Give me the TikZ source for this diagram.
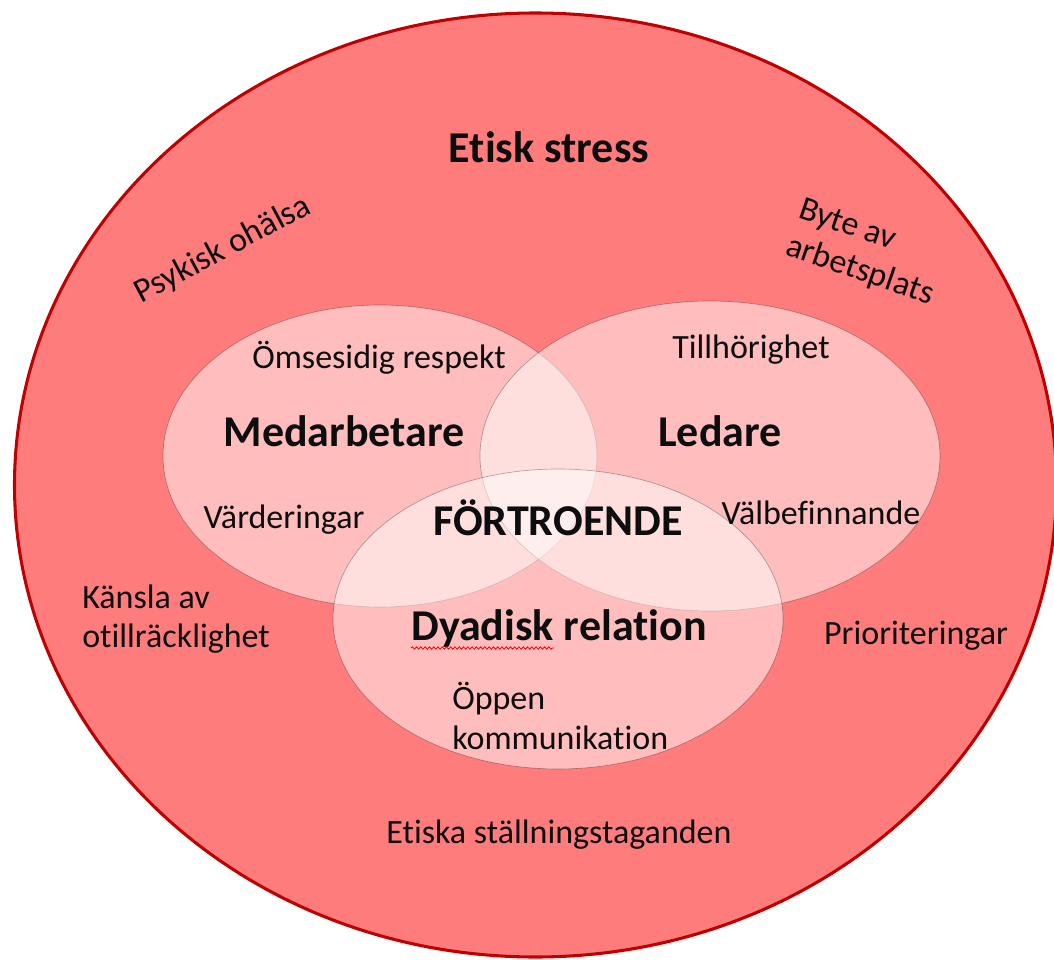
\documentclass[tikz,border=0pt]{standalone}
\usepackage{fontspec}
\setmainfont[Ligatures={NoCommon,NoRequired,NoContextual}]{Carlito}
\usetikzlibrary{decorations.pathmorphing}
\definecolor{outerfill}{RGB}{255,124,124}
\definecolor{outerline}{RGB}{192,0,0}
\definecolor{txt}{RGB}{13,13,13}
\begin{document}
\begin{tikzpicture}[x=0.75pt,y=-0.75pt,
  outer/.style={fill=outerfill,draw=outerline,line width=2.3pt},
  inner/.style={fill=white,fill opacity=0.5,draw=black,draw opacity=0.3,line width=0.5pt},
  title/.style={font=\fontsize{33}{38}\selectfont\bfseries,text=txt,inner sep=0pt},
  lbl/.style={font=\fontsize{25.5}{29.5}\selectfont,text=txt,inner sep=0pt,align=left},
  spell/.style={draw=red,line width=0.6pt,decorate,decoration={snake,amplitude=0.9pt,segment length=3.2pt}}
]
\useasboundingbox (0,0) rectangle (1054,960);
\fill[white] (0,0) rectangle (1054,960);
\draw[outer] (535.5,485) ellipse [x radius=521,y radius=472];
\path[inner] (380,456) ellipse [x radius=217,y radius=151];
\path[inner] (710,456) ellipse [x radius=230,y radius=155];
\path[inner] (558,619) ellipse [x radius=225,y radius=150];

\node[title] (etisk) at (549,147) {Etisk stress};
\node[lbl,rotate=28] (psyk) at (223,250) {Psykisk ohälsa};
\node[lbl,rotate=-19] (byte) at (866,253) {Byte av\\arbetsplats};
\node[lbl] (omse) at (379,358) {Ömsesidig respekt};
\node[title] (med) at (344,431) {Medarbetare};
\node[lbl] (vard) at (284,520) {Värderingar};
\node[lbl] (till) at (751,350) {Tillhörighet};
\node[title] (led) at (720,431) {Ledare};
\node[lbl] (valb) at (821,513) {Välbefinnande};
\node[title] (fort) at (558,518) {FÖRTROENDE};
\node[title] (dyad) at (559,629) {Dyadisk relation};
\node[lbl,anchor=west] (oppen) at (452,716) {Öppen\\kommunikation};
\node[lbl,anchor=west] (kansla) at (82,619) {Känsla av\\otillräcklighet};
\node[lbl] (prio) at (916,636) {Prioriteringar};
\node[lbl] (etiska) at (559,835) {Etiska ställningstaganden};

\coordinate (w1) at (411,648);
\coordinate (w2) at (554,648);
\draw[spell] (w1) -- (w2);
\end{tikzpicture}
\end{document}
